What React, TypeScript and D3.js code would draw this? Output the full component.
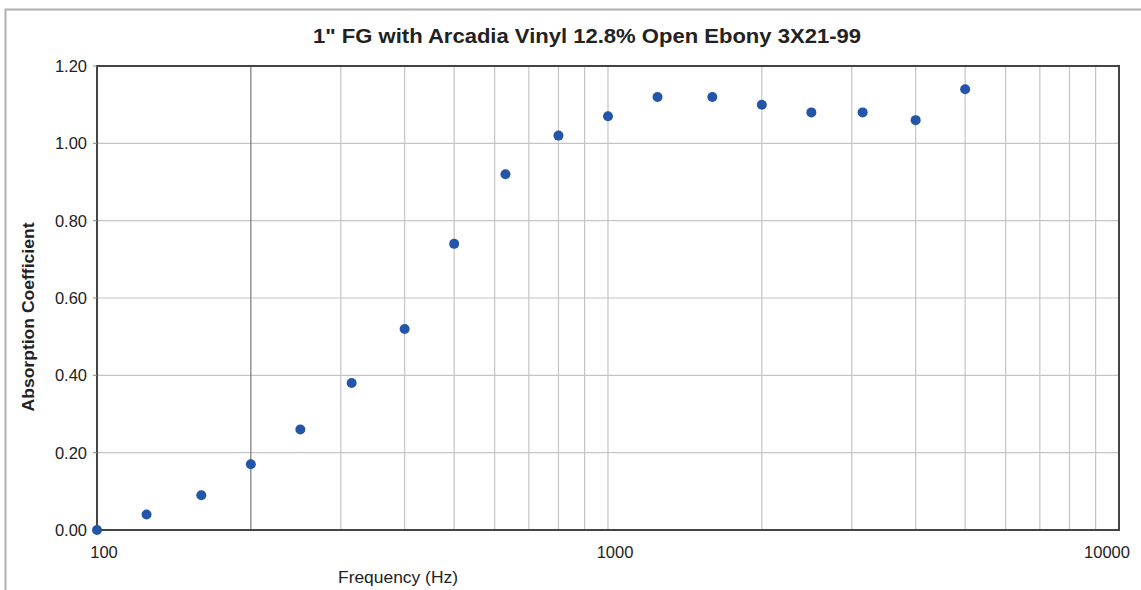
import React from 'react';
import * as d3 from 'd3';

const frequencies = [100, 125, 160, 200, 250, 315, 400, 500, 630, 800, 1000, 1250, 1600, 2000, 2500, 3150, 4000, 5000];
const absorption = [0.0, 0.04, 0.09, 0.17, 0.26, 0.38, 0.52, 0.74, 0.92, 1.02, 1.07, 1.12, 1.12, 1.10, 1.08, 1.08, 1.06, 1.14];
const yTicks = [0, 0.2, 0.4, 0.6, 0.8, 1.0, 1.2];
const xLabels = [100, 1000, 10000];
const title = '1" FG with Arcadia Vinyl 12.8% Open Ebony 3X21-99';

const W = 1141;
const H = 590;
const m = { left: 97, right: 1119, top: 66, bottom: 530 };

export default function App() {
  const x = d3.scaleLog().domain([100, 10000]).range([m.left, m.right]);
  const y = d3.scaleLinear().domain([0, 1.2]).range([m.bottom, m.top]);

  // minor decades: 200..900, 2000..9000
  const gridX = x.ticks().filter(t => t !== 100 && t !== 10000);
  const font = 'Liberation Sans, Arial, sans-serif';

  return (
    <svg width={W} height={H} style={{ position: 'absolute', left: 0, top: 0 }}>
      <rect x={0} y={0} width={W} height={H} fill="#fff" />
      {/* outer chart frame */}
      <path d={`M5.5,${H} V9.5 H${W}`} fill="none" stroke="#b0b0b0" strokeWidth={2} />

      <text x={587} y={43} textAnchor="middle" fontFamily={font} fontWeight="bold" fontSize={19.5}
        textLength={548} lengthAdjust="spacingAndGlyphs" fill="#222">
        {title}
      </text>

      {/* grid */}
      {yTicks.slice(1, -1).map(t => (
        <line key={'gy' + t} x1={m.left} x2={m.right} y1={y(t)} y2={y(t)} stroke="#c4c4c4" strokeWidth={1.2} />
      ))}
      {gridX.map(t => (
        <line key={'gx' + t} x1={x(t)} x2={x(t)} y1={m.top} y2={m.bottom}
          stroke={t === 200 ? '#777' : '#c4c4c4'} strokeWidth={1.2} />
      ))}

      {/* plot border */}
      <rect x={m.left} y={m.top} width={m.right - m.left} height={m.bottom - m.top}
        fill="none" stroke="#444" strokeWidth={2} />

      {/* y axis ticks + labels */}
      {yTicks.map(t => (
        <g key={'yt' + t}>
          <line x1={m.left - 4} x2={m.left} y1={y(t)} y2={y(t)} stroke="#888" strokeWidth={1} />
          <text x={87} y={y(t) + 6} textAnchor="end" fontFamily={font} fontSize={16.5} fill="#222">
            {d3.format('.2f')(t)}
          </text>
        </g>
      ))}

      {/* x labels */}
      {xLabels.map((t, i) => (
        <text key={'xl' + t} x={x(t) + (i === xLabels.length - 1 ? -12 : 7)} y={558}
          textAnchor="middle" fontFamily={font} fontSize={16.5} fill="#222">
          {t}
        </text>
      ))}

      <text x={398} y={583} textAnchor="middle" fontFamily={font} fontSize={16}
        textLength={120} lengthAdjust="spacingAndGlyphs" fill="#222">
        Frequency (Hz)
      </text>
      <text transform="translate(34,317) rotate(-90)" textAnchor="middle" fontFamily={font}
        fontWeight="bold" fontSize={16} textLength={189} lengthAdjust="spacingAndGlyphs" fill="#222">
        Absorption Coefficient
      </text>

      {/* points */}
      {frequencies.map((f, i) => (
        <circle key={'p' + f} cx={x(f)} cy={y(absorption[i])} r={5} fill="#2455a8" />
      ))}
    </svg>
  );
}
